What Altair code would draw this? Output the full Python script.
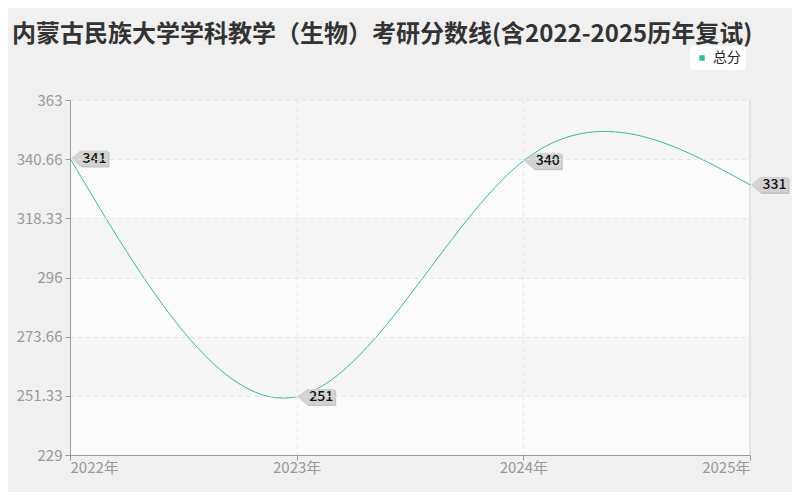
import altair as alt
import pandas as pd

years = [2022, 2023, 2024, 2025]
scores = [341, 251, 340, 331]
y_ticks = [229, 251.33, 273.66, 296, 318.33, 340.66, 363]
series_name = "总分"
title_text = "内蒙古民族大学学科教学（生物）考研分数线(含2022-2025历年复试)"

df = pd.DataFrame({"year": years, "score": scores, "series": [series_name] * len(years)})
df["label"] = df["score"].astype(str)
bands = pd.DataFrame({
    "y0": y_ticks[:-1],
    "y1": y_ticks[1:],
    "shade": ["a" if i % 2 == 0 else "b" for i in range(len(y_ticks) - 1)],
})

FONT = "Noto Sans CJK SC"
GREEN = "#33c08d"
W, H = 680, 355

x_scale = alt.Scale(domain=[years[0], years[-1]], nice=False, zero=False)
y_scale = alt.Scale(domain=[y_ticks[0], y_ticks[-1]], nice=False, zero=False)

x_axis = alt.Axis(values=years, labelExpr="datum.value + '年'", title=None,
                  grid=True, gridDash=[4, 4], gridColor="#e4e4e4",
                  domainColor="#9a9a9a", tickColor="#9a9a9a", labelColor="#999999",
                  labelFontSize=15, labelFont=FONT, tickSize=5, labelPadding=0, zindex=1)
y_axis = alt.Axis(values=y_ticks, format=".2~f", title=None, grid=True, gridDash=[4, 4],
                  gridColor="#e4e4e4",
                  domainColor="#9a9a9a", tickColor="#9a9a9a", labelColor="#999999",
                  labelFontSize=15, labelFont=FONT, tickSize=5, labelPadding=3, zindex=1)

base = alt.Chart(df)

band_layer = alt.Chart(bands).mark_rect().encode(
    x=alt.datum(years[0], scale=x_scale),
    x2=alt.datum(years[-1]),
    y=alt.Y("y0:Q", scale=y_scale, axis=y_axis),
    y2="y1:Q",
    fill=alt.Fill("shade:N", scale=alt.Scale(domain=["a", "b"], range=["#fbfbfb", "#f6f6f6"]), legend=None),
)

right_border = alt.Chart(df).mark_rule(color="#e2e2e2", strokeWidth=1).encode(
    x=alt.datum(years[-1], scale=x_scale),
)

line = base.mark_line(interpolate="natural", strokeWidth=1).encode(
    x=alt.X("year:Q", scale=x_scale, axis=x_axis),
    y=alt.Y("score:Q", scale=y_scale, axis=y_axis),
    color=alt.Color("series:N", scale=alt.Scale(domain=[series_name], range=[GREEN]),
                    legend=alt.Legend(title=None, orient="none", legendX=620, legendY=-54,
                                      symbolType="square", symbolSize=30, labelFontSize=14,
                                      labelFont=FONT, labelColor="#222", fillColor="#ffffff",
                                      cornerRadius=4, padding=5, symbolStrokeWidth=0,
                                      symbolFillColor=GREEN, symbolOpacity=1)),
)

BOX = "M-1,0 L-0.5,-0.42 L1,-0.42 L1,0.42 L-0.5,0.42 Z"
shadow = base.mark_point(shape=BOX, size=1369, filled=True, color="#9a9a9a", opacity=0.55,
                         xOffset=21, yOffset=1.5, strokeWidth=0).encode(
    x=alt.X("year:Q", scale=x_scale), y=alt.Y("score:Q", scale=y_scale))
box = base.mark_point(shape=BOX, size=1369, filled=True, color="#d2d2d2", opacity=1,
                      xOffset=19.5, strokeWidth=0).encode(
    x=alt.X("year:Q", scale=x_scale), y=alt.Y("score:Q", scale=y_scale))
text = base.mark_text(font=FONT, fontSize=14, fontWeight=500, color="#111111", xOffset=24.5, dy=0.5,
                      baseline="middle", align="center").encode(
    x=alt.X("year:Q", scale=x_scale), y=alt.Y("score:Q", scale=y_scale), text="label:N")

chart = alt.layer(band_layer, right_border, line, shadow, box, text).resolve_scale(
    color="independent", fill="independent"
).properties(
    width=W, height=H,
    title=alt.TitleParams(title_text, anchor="start", frame="group", dx=-58, dy=1, fontSize=24,
                          font=FONT, color="#333333", fontWeight="bold", offset=0),
    autosize=alt.AutoSizeParams(type="none"),
    padding={"left": 62, "top": 92, "right": 42, "bottom": 37},
    background="#f0f0f0",
).configure_view(stroke=None)

chart.save("out.html", embed_options={"renderer": "svg", "actions": False})
